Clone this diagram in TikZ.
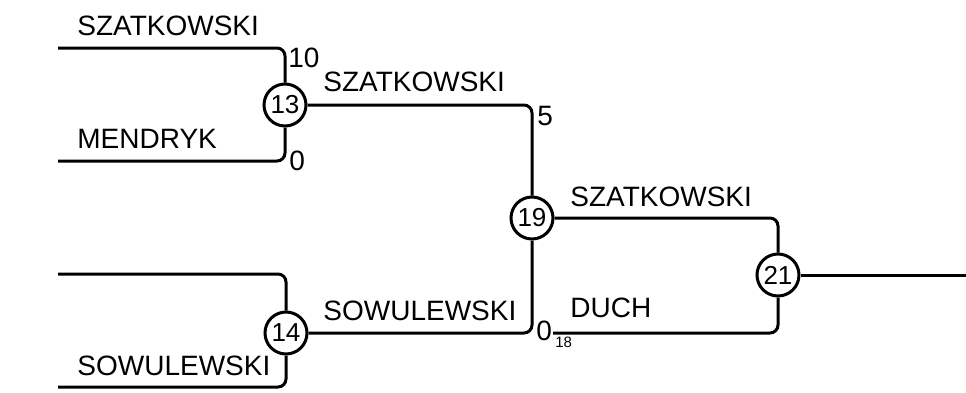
\documentclass[tikz,border=0pt]{standalone}
\usepackage{fontspec}
\setmainfont{Liberation Sans}
\tikzset{
  match/.style={circle, draw, line width=1.5pt, minimum size=21pt, inner sep=0pt, font=\fontsize{13}{13}\selectfont},
  branch/.style={line width=1.5pt, rounded corners=4pt},
  player/.style={anchor=base west, inner sep=0pt, font=\fontsize{14}{15}\selectfont},
  score/.style={inner sep=0pt, font=\fontsize{14}{15}\selectfont},
  seed/.style={inner sep=0pt, anchor=north west, font=\fontsize{7.5}{8}\selectfont}
}
\begin{document}
\begin{tikzpicture}[x=0.5pt, y=-0.5pt]
  \useasboundingbox (0,0) rectangle (966,392);

  % matches
  \node[match] (m13) at (285,105) {13};
  \node[match] (m14) at (286,333) {14};
  \node[match] (m19) at (532,218) {19};
  \node[match] (m21) at (778,275) {21};

  % free ends
  \coordinate (a1) at (58,48);
  \coordinate (a2) at (58,161);
  \coordinate (b1) at (58,274);
  \coordinate (b2) at (58,387);
  \coordinate (c1) at (553,333);
  \coordinate (out) at (966,275);

  % bracket lines
  \draw[branch] (a1) -- (a1 -| m13) -- (m13);
  \draw[branch] (a2) -- (a2 -| m13) -- (m13);
  \draw[branch] (b1) -- (b1 -| m14) -- (m14);
  \draw[branch] (b2) -- (b2 -| m14) -- (m14);
  \draw[branch] (m13) -- (m13 -| m19) -- (m19);
  \draw[branch] (m14) -- (m14 -| m19) -- (m19);
  \draw[branch] (m19) -- (m19 -| m21) -- (m21);
  \draw[branch] (c1) -- (c1 -| m21) -- (m21);
  \draw[branch] (m21) -- (out);

  % names
  \node[player] (p1) at (77,35) {SZATKOWSKI};
  \node[player] (p2) at (77,148) {MENDRYK};
  \node[player] (p3) at (77,375) {SOWULEWSKI};
  \node[player] (p4) at (323,91) {SZATKOWSKI};
  \node[player] (p5) at (323,320) {SOWULEWSKI};
  \node[player] (p6) at (570,206) {SZATKOWSKI};
  \node[player] (p7) at (570,317) {DUCH};

  % scores
  \node[score, anchor=north west] (s1) at (288,48) {10};
  \node[score, anchor=west] (s2) at (289,161) {0};
  \node[score, anchor=north west] (s3) at (537,106) {5};
  \node[score, anchor=west] (s4) at (536,331) {0};
  \node[seed] (s5) at (555,337) {18};
\end{tikzpicture}
\end{document}
